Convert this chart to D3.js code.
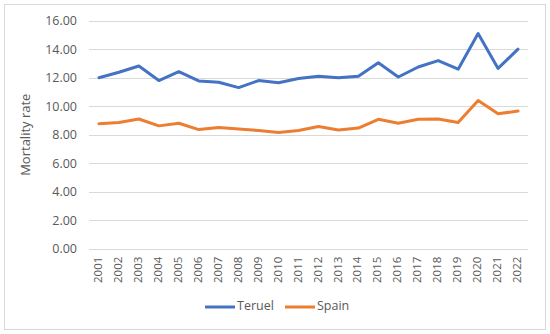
<!DOCTYPE html>
<html><head><meta charset="utf-8">
<script src="https://cdn.jsdelivr.net/npm/d3@7"></script>
<style>body{margin:0;background:#fff}svg{display:block}</style>
</head><body>
<script>
const years = ["2001","2002","2003","2004","2005","2006","2007","2008","2009","2010","2011","2012","2013","2014","2015","2016","2017","2018","2019","2020","2021","2022"];
const teruel = [12.0,12.38,12.82,11.8,12.42,11.77,11.68,11.3,11.8,11.65,11.95,12.1,12.0,12.1,13.05,12.05,12.75,13.2,12.6,15.1,12.65,14.0];
const spain = [8.76,8.86,9.1,8.62,8.8,8.36,8.5,8.4,8.29,8.15,8.29,8.57,8.33,8.47,9.08,8.8,9.08,9.1,8.85,10.4,9.47,9.66];
const yTicks = [0,2,4,6,8,10,12,14,16];
const seriesNames = ["Teruel","Spain"];
const colors = ["#4472C4","#ED7D31"];

const W=550,H=334;
const svg=d3.select("body").append("svg").attr("width",W).attr("height",H);
const font="'Open Sans', sans-serif";
svg.append("rect").attr("x",4.5).attr("y",4.5).attr("width",541).attr("height",325).attr("fill","#fff").attr("stroke","#d9d9d9");

const x=d3.scaleBand().domain(years).range([89,528]);
const y=d3.scaleLinear().domain([0,16]).range([248.7,20.7]);

const grid=svg.append("g");
grid.selectAll("line").data(yTicks).join("line")
 .attr("x1",89).attr("x2",528).attr("y1",d=>Math.round(y(d))+0.5).attr("y2",d=>Math.round(y(d))+0.5)
 .attr("stroke","#d9d9d9").attr("stroke-width",1);

const yAxis=svg.append("g").attr("transform","translate(89,0)")
 .call(d3.axisLeft(y).tickValues(yTicks).tickFormat(d3.format(".2f")).tickSize(0).tickPadding(12));
yAxis.select(".domain").remove();
yAxis.selectAll("text").attr("font-family",font).attr("font-size",12.5).attr("fill","#595959");

const xAxis=svg.append("g").attr("transform","translate(0,248.7)")
 .call(d3.axisBottom(x).tickSize(0));
xAxis.select(".domain").remove();
xAxis.selectAll("text").attr("font-family",font).attr("font-size",11.5).attr("fill","#595959")
 .attr("transform","rotate(-90)").attr("text-anchor","end").attr("dx","-8").attr("dy","-0.45em").attr("y",0).attr("x",0)
 .attr("dominant-baseline","middle").attr("dy",0);

svg.append("text").attr("transform","translate(30,134.7) rotate(-90)").attr("text-anchor","middle")
 .attr("font-family",font).attr("font-size",13).attr("fill","#595959").text("Mortality rate");

const line=d3.line().x((d,i)=>x(years[i])+x.bandwidth()/2).y(d=>y(d));
[teruel,spain].forEach((s,k)=>{
 svg.append("path").datum(s).attr("d",line).attr("fill","none").attr("stroke",colors[k]).attr("stroke-width",3).attr("stroke-linejoin","round").attr("stroke-linecap","round");
});

const legX=[205,285];
seriesNames.forEach((n,k)=>{
 svg.append("line").attr("x1",legX[k]).attr("x2",legX[k]+30).attr("y1",307).attr("y2",307).attr("stroke",colors[k]).attr("stroke-width",3);
 svg.append("text").attr("x",legX[k]+32).attr("y",307).attr("dominant-baseline","middle").attr("font-family",font).attr("font-size",12.5).attr("fill","#595959").text(n);
});
</script>
</body></html>
